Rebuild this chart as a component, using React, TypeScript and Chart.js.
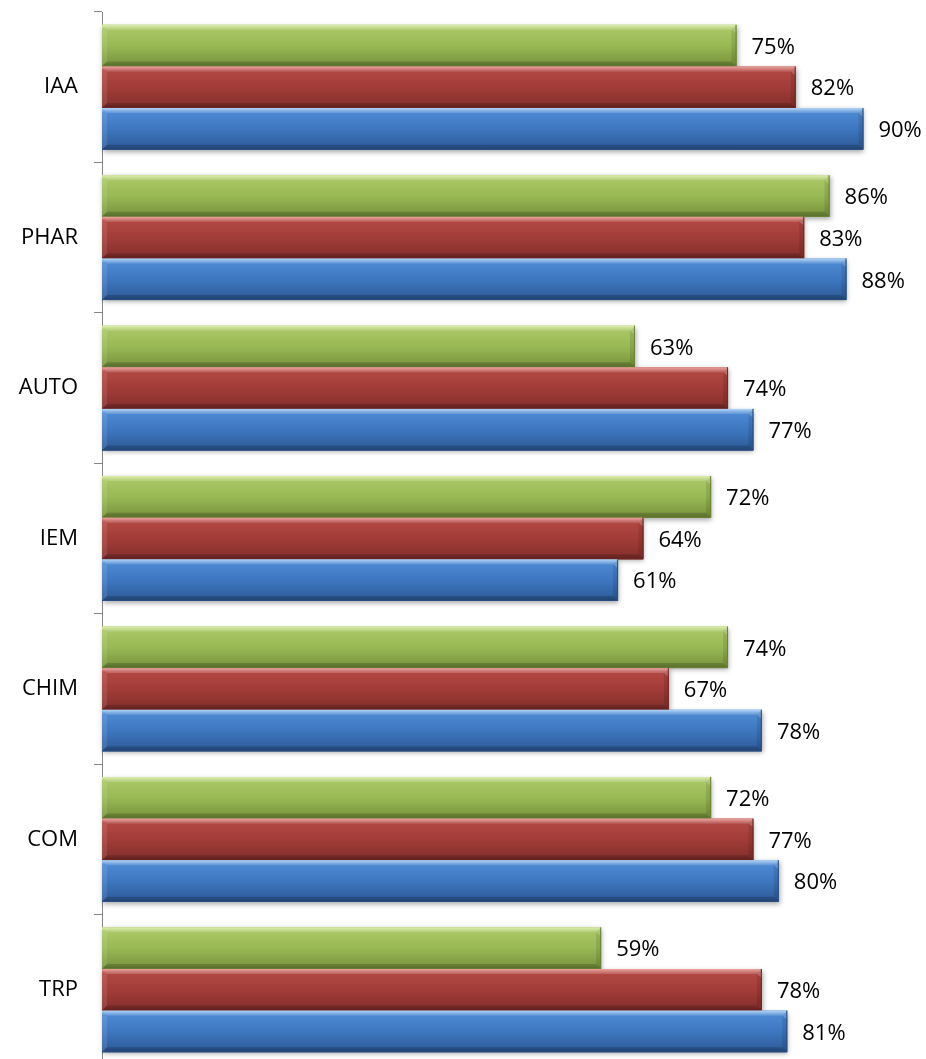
import React, { useEffect, useRef } from "react";
import { Chart, registerables } from "chart.js";

Chart.register(...registerables);

const categories = ["IAA", "PHAR", "AUTO", "IEM", "CHIM", "COM", "TRP"];
const greenValues = [75, 86, 63, 72, 74, 72, 59];
const redValues = [82, 83, 74, 64, 67, 77, 78];
const blueValues = [90, 88, 77, 61, 78, 80, 81];

const FONT = '"Open Sans", "Liberation Sans", sans-serif';

const palettes = [
  { base: "#9bbb59", top: "#d6eb9c", upper: "#a9c764", mid: "#99b955", bottom: "#7c983f", edge: "#6a8434" },
  { base: "#a53e3a", top: "#ea8f8a", upper: "#b24844", mid: "#a23c38", bottom: "#88312d", edge: "#742825" },
  { base: "#3f78c1", top: "#a2cdf7", upper: "#4d89d3", mid: "#3e77c0", bottom: "#2f5e9d", edge: "#284f86" },
];

function poly(ctx: CanvasRenderingContext2D, pts: number[][], fill: string) {
  ctx.beginPath();
  ctx.moveTo(pts[0][0], pts[0][1]);
  for (let i = 1; i < pts.length; i++) ctx.lineTo(pts[i][0], pts[i][1]);
  ctx.closePath();
  ctx.fillStyle = fill;
  ctx.fill();
}

const bevelPlugin = {
  id: "bevelBars",
  afterDatasetsDraw(chart: any) {
    const ctx: CanvasRenderingContext2D = chart.ctx;
    chart.data.datasets.forEach((ds: any, di: number) => {
      const meta = chart.getDatasetMeta(di);
      const pal = palettes[di];
      meta.data.forEach((el: any, i: number) => {
        const { x, y, base, height } = el.getProps(["x", "y", "base", "height"], true);
        const l = Math.min(x, base);
        const r = Math.max(x, base);
        const t = y - height / 2;
        const b = y + height / 2;
        const bv = 5;
        ctx.save();
        ctx.shadowColor = "rgba(0,0,0,0.35)";
        ctx.shadowBlur = 5;
        ctx.shadowOffsetX = 1;
        ctx.shadowOffsetY = 2;
        const g = ctx.createLinearGradient(0, t, 0, b);
        g.addColorStop(0, pal.top);
        g.addColorStop(0.1, pal.upper);
        g.addColorStop(0.5, pal.mid);
        g.addColorStop(0.92, pal.bottom);
        g.addColorStop(1, pal.edge);
        ctx.fillStyle = g;
        ctx.fillRect(l, t, r - l, b - t);
        ctx.restore();
        ctx.save();
        poly(ctx, [[l, t], [r, t], [r - bv, t + bv], [l + bv, t + bv]], "rgba(255,255,255,0.18)");
        poly(ctx, [[r - bv, t + bv], [r, t], [r, b], [r - bv, b - bv]], "rgba(0,0,0,0.10)");
        poly(ctx, [[r - bv, t + bv], [r, t], [r, t + bv + 4]], "rgba(255,255,255,0.22)");
        poly(ctx, [[l + bv, b - bv], [r - bv, b - bv], [r, b], [l, b]], "rgba(0,0,0,0.18)");
        poly(ctx, [[l, t], [l + bv, t + bv], [l + bv, b - bv], [l, b]], "rgba(255,255,255,0.10)");
        ctx.strokeStyle = pal.edge;
        ctx.lineWidth = 1;
        ctx.beginPath();
        ctx.moveTo(r - 0.5, t);
        ctx.lineTo(r - 0.5, b - 0.5);
        ctx.lineTo(l, b - 0.5);
        ctx.stroke();
        ctx.restore();

        const v = ds.data[i];
        ctx.save();
        ctx.font = `22px ${FONT}`;
        ctx.fillStyle = "#000";
        ctx.textAlign = "left";
        ctx.textBaseline = "middle";
        ctx.fillText(`${v}%`, r + 15, y + 2);
        ctx.restore();
      });
    });
  },
};

export default function App() {
  const ref = useRef<HTMLCanvasElement | null>(null);
  useEffect(() => {
    if (!ref.current) return;
    const chart = new Chart(ref.current, {
      type: "bar",
      data: {
        labels: categories,
        datasets: [
          { label: "Série 1", data: greenValues, backgroundColor: palettes[0].base, borderWidth: 0 },
          { label: "Série 2", data: redValues, backgroundColor: palettes[1].base, borderWidth: 0 },
          { label: "Série 3", data: blueValues, backgroundColor: palettes[2].base, borderWidth: 0 },
        ],
      },
      options: {
        indexAxis: "y",
        responsive: false,
        animation: false,
        devicePixelRatio: 1,
        categoryPercentage: 0.83,
        barPercentage: 1,
        layout: { padding: { top: 12, bottom: 1, left: 0, right: 0 } },
        plugins: {
          legend: { display: false },
          tooltip: { enabled: false },
        },
        scales: {
          x: { display: false, min: 0, max: 100 },
          y: {
            grid: {
              offset: true,
              drawOnChartArea: false,
              drawTicks: true,
              tickLength: 8,
              color: "#868686",
              lineWidth: 1,
            },
            border: { display: true, color: "#868686", width: 1 },
            ticks: { font: { family: FONT, size: 22 }, color: "#000", padding: 16 },
            afterFit: (s: any) => {
              s.width = 102;
              s.paddingTop = 0;
              s.paddingBottom = 0;
            },
          },
        },
      } as any,
      plugins: [bevelPlugin],
    });
    return () => chart.destroy();
  }, []);
  return (
    <div
      style={{
        position: "absolute",
        left: 0,
        top: 0,
        width: 926,
        height: 1059,
        overflow: "hidden",
        background: "#fff",
      }}
    >
      <canvas ref={ref} width={948} height={1066} style={{ display: "block" }} />
    </div>
  );
}
